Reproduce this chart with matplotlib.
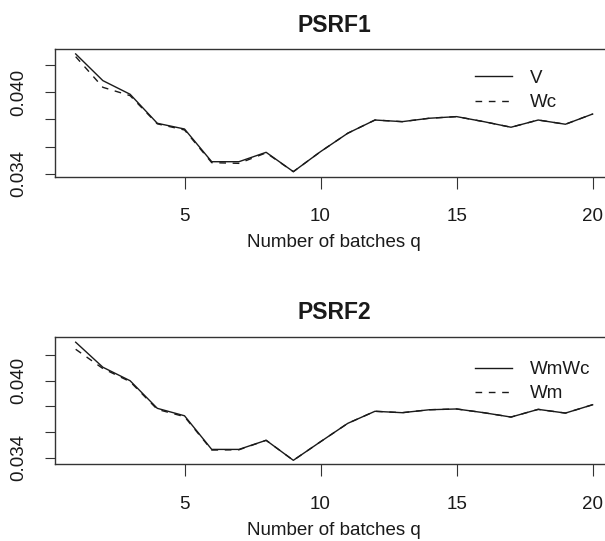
import matplotlib
matplotlib.use("Agg")
import matplotlib.pyplot as plt

plt.rcParams['font.family'] = ['Liberation Sans', 'DejaVu Sans']

q = list(range(1, 21))

psrf1_V = [0.04281, 0.04085, 0.03985, 0.03772, 0.03730, 0.03490, 0.03490, 0.03559, 0.03417, 0.03564,
           0.03699, 0.03796, 0.03784, 0.03809, 0.03821, 0.03784, 0.03743, 0.03796, 0.03765, 0.03840]
psrf1_Wc = [0.04261, 0.04036, 0.03975, 0.03768, 0.03723, 0.03483, 0.03478, 0.03555, 0.03417, 0.03564,
            0.03699, 0.03796, 0.03784, 0.03809, 0.03821, 0.03784, 0.03743, 0.03796, 0.03765, 0.03840]

psrf2_WmWc = [0.04300, 0.04105, 0.04000, 0.03785, 0.03727, 0.03465, 0.03465, 0.03536, 0.03380, 0.03525,
              0.03668, 0.03762, 0.03751, 0.03774, 0.03780, 0.03751, 0.03717, 0.03777, 0.03748, 0.03813]
psrf2_Wm = [0.04245, 0.04095, 0.03993, 0.03777, 0.03720, 0.03460, 0.03462, 0.03536, 0.03380, 0.03525,
            0.03668, 0.03762, 0.03751, 0.03774, 0.03780, 0.03751, 0.03717, 0.03777, 0.03748, 0.03813]

titles = ["PSRF1", "PSRF2"]
legend_labels = [["V", "Wc"], ["WmWc", "Wm"]]
xlabel = "Number of batches q"
xticks = [5, 10, 15, 20]
yticks = [0.034, 0.036, 0.038, 0.040, 0.042]
ytick_labels = ["0.034", "", "", "0.040", ""]

W, H = 605, 541
fig = plt.figure(figsize=(W / 100, H / 100), dpi=100)

ink = '#1a1a1a'
fs = 13.5

def px_axes(left, top, right, bottom):
    return [left / W, 1 - bottom / H, (right - left) / W, (bottom - top) / H]

panels = [
    dict(rect=px_axes(55, 49.3, 613.3, 176.7), ylim=(0.03380, 0.04315),
         s1=psrf1_V, s2=psrf1_Wc, leg_top=69.7),
    dict(rect=px_axes(55, 336.7, 613.3, 464.3), ylim=(0.03349, 0.04343),
         s1=psrf2_WmWc, s2=psrf2_Wm, leg_top=361),
]

for i, p in enumerate(panels):
    ax = fig.add_axes(p['rect'])
    l1, = ax.plot(q, p['s1'], color=ink, lw=1.0, label=legend_labels[i][0])
    l2, = ax.plot(q, p['s2'], color=ink, lw=1.0, label=legend_labels[i][1])
    l2.set_dashes([4.8, 4.8])
    ax.set_xlim(0.24, 20.76)
    ax.set_ylim(*p['ylim'])
    ax.set_xticks(xticks)
    ax.set_xticklabels([str(t) for t in xticks], fontsize=fs, color=ink)
    ax.set_yticks(yticks)
    ax.set_yticklabels(ytick_labels, fontsize=fs, color=ink, rotation=90, va='center')
    ax.tick_params(axis='x', length=8.8, width=0.8, color='#333333', pad=14)
    ax.tick_params(axis='y', length=7.2, width=0.8, color='#333333', pad=12.6)
    for s in ax.spines.values():
        s.set_color('#333333')
        s.set_linewidth(1.0)
    ax.set_title(titles[i], fontsize=16.5, fontweight='bold', color=ink, pad=12.7)
    ax.set_xlabel(xlabel, fontsize=fs, color=ink, labelpad=6.3)
    leg = ax.legend(loc='upper left', bbox_to_anchor=(475 / W, 1 - p['leg_top'] / H),
                    bbox_transform=fig.transFigure, frameon=False, fontsize=fs,
                    handlelength=1.97, handletextpad=0.96, borderpad=0, borderaxespad=0,
                    labelspacing=0.38)
    for t in leg.get_texts():
        t.set_color(ink)

fig.savefig("out.png", dpi=100)
